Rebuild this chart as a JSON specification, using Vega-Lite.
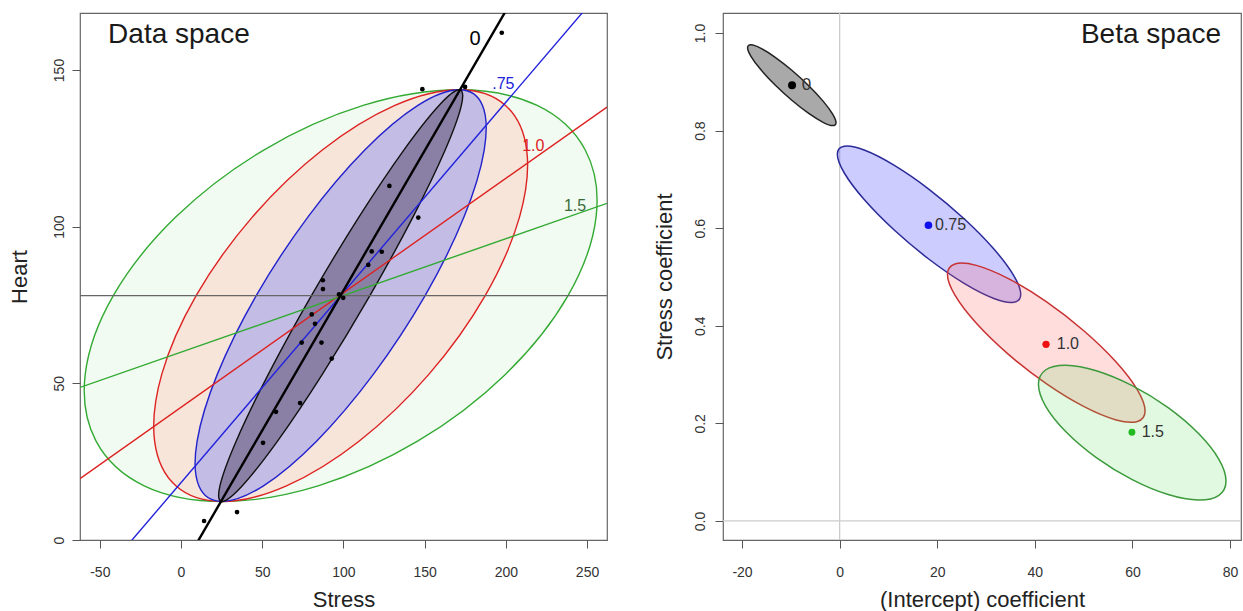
{
  "$schema": "https://vega.github.io/schema/vega-lite/v6.json",
  "padding": {"left": 8, "top": 12, "right": 2, "bottom": 0},
  "spacing": 45,
  "background": "white",
  "config": {
    "font": "Liberation Sans",
    "locale": {"number": {"decimal": ".", "thousands": ",", "grouping": [3], "currency": ["$", ""], "minus": "-"}},
    "view": {"stroke": "#666666", "strokeWidth": 1.2},
    "axis": {"domain": false, "grid": false, "tickColor": "#555555", "tickSize": 8, "tickWidth": 1, "labelFontSize": 14, "labelColor": "#333333", "labelFont": "Liberation Sans", "labelFlush": false, "labelOverlap": false, "labelBound": false, "titleFont": "Liberation Sans", "titleFontSize": 22, "titleFontWeight": "normal", "titleColor": "#222222"}
  },
  "datasets": {
    "ellL": [
      {"e":"g","k":0,"x":238.3,"y":78.0},{"e":"g","k":1,"x":255.59,"y":103.14},{"e":"g","k":2,"x":248.91,"y":124.46},{"e":"g","k":3,"x":219.32,"y":138.7},
      {"e":"g","k":4,"x":171.3,"y":143.7},{"e":"g","k":5,"x":112.16,"y":138.7},{"e":"g","k":6,"x":50.93,"y":124.46},{"e":"g","k":7,"x":-3.11,"y":103.14},
      {"e":"g","k":8,"x":-41.7,"y":78.0},{"e":"g","k":9,"x":-58.99,"y":52.86},{"e":"g","k":10,"x":-52.31,"y":31.54},{"e":"g","k":11,"x":-22.72,"y":17.3},
      {"e":"g","k":12,"x":25.3,"y":12.3},{"e":"g","k":13,"x":84.44,"y":17.3},{"e":"g","k":14,"x":145.67,"y":31.54},{"e":"g","k":15,"x":199.71,"y":52.86},
      {"e":"r","k":0,"x":187.3,"y":78.0},{"e":"r","k":1,"x":208.47,"y":103.14},{"e":"r","k":2,"x":212.85,"y":124.46},{"e":"r","k":3,"x":199.8,"y":138.7},
      {"e":"r","k":4,"x":171.3,"y":143.7},{"e":"r","k":5,"x":131.68,"y":138.7},{"e":"r","k":6,"x":86.99,"y":124.46},{"e":"r","k":7,"x":44.01,"y":103.14},
      {"e":"r","k":8,"x":9.3,"y":78.0},{"e":"r","k":9,"x":-11.87,"y":52.86},{"e":"r","k":10,"x":-16.25,"y":31.54},{"e":"r","k":11,"x":-3.2,"y":17.3},
      {"e":"r","k":12,"x":25.3,"y":12.3},{"e":"r","k":13,"x":64.92,"y":17.3},{"e":"r","k":14,"x":109.61,"y":31.54},{"e":"r","k":15,"x":152.59,"y":52.86},
      {"e":"b","k":0,"x":150.3,"y":78.0},{"e":"b","k":1,"x":174.28,"y":103.14},{"e":"b","k":2,"x":186.69,"y":124.46},{"e":"b","k":3,"x":185.64,"y":138.7},
      {"e":"b","k":4,"x":171.3,"y":143.7},{"e":"b","k":5,"x":145.84,"y":138.7},{"e":"b","k":6,"x":113.15,"y":124.46},{"e":"b","k":7,"x":78.2,"y":103.14},
      {"e":"b","k":8,"x":46.3,"y":78.0},{"e":"b","k":9,"x":22.32,"y":52.86},{"e":"b","k":10,"x":9.91,"y":31.54},{"e":"b","k":11,"x":10.96,"y":17.3},
      {"e":"b","k":12,"x":25.3,"y":12.3},{"e":"b","k":13,"x":50.76,"y":17.3},{"e":"b","k":14,"x":83.45,"y":31.54},{"e":"b","k":15,"x":118.4,"y":52.86},
      {"e":"k","k":0,"x":116.3,"y":78.0},{"e":"k","k":1,"x":142.87,"y":103.14},{"e":"k","k":2,"x":162.65,"y":124.46},{"e":"k","k":3,"x":172.63,"y":138.7},
      {"e":"k","k":4,"x":171.3,"y":143.7},{"e":"k","k":5,"x":158.85,"y":138.7},{"e":"k","k":6,"x":137.19,"y":124.46},{"e":"k","k":7,"x":109.61,"y":103.14},
      {"e":"k","k":8,"x":80.3,"y":78.0},{"e":"k","k":9,"x":53.73,"y":52.86},{"e":"k","k":10,"x":33.95,"y":31.54},{"e":"k","k":11,"x":23.97,"y":17.3},
      {"e":"k","k":12,"x":25.3,"y":12.3},{"e":"k","k":13,"x":37.75,"y":17.3},{"e":"k","k":14,"x":59.41,"y":31.54},{"e":"k","k":15,"x":86.99,"y":52.86}
    ],
    "linesL": [
      {"l":"0","x":-62.2,"y":-65.2},{"l":"0","x":262.3,"y":224.5},
      {"l":"0.75","x":-62.2,"y":-19.44},{"l":"0.75","x":262.3,"y":177.5},
      {"l":"1.0","x":-62.2,"y":19.61},{"l":"1.0","x":262.3,"y":138.19},
      {"l":"1.5","x":-62.2,"y":48.7},{"l":"1.5","x":262.3,"y":107.44},
      {"l":"inf","x":-62.2,"y":78.0},{"l":"inf","x":262.3,"y":78.0}
    ],
    "ptsL": [
      {"x":14.2,"y":6.06},{"x":34.5,"y":8.9},{"x":50.5,"y":31.0},{"x":58.5,"y":40.9},{"x":73.3,"y":43.7},{"x":74.3,"y":63.0},
      {"x":80.5,"y":72.0},{"x":82.5,"y":69.0},{"x":86.5,"y":63.0},{"x":92.8,"y":57.9},{"x":87.3,"y":82.9},{"x":87.4,"y":80.1},
      {"x":97.3,"y":78.4},{"x":99.9,"y":77.3},{"x":115.3,"y":87.8},{"x":117.4,"y":92.1},{"x":123.6,"y":92.0},{"x":128.3,"y":113.0},
      {"x":146.1,"y":102.9},{"x":148.6,"y":143.9},{"x":174.9,"y":144.6},{"x":197.5,"y":161.9}
    ],
    "labL": [
      {"t":"0","x":181.0,"y":159.8},{"t":".75","x":198.5,"y":145.4},{"t":"1.0","x":216.9,"y":125.8},{"t":"1.5","x":242.6,"y":106.6}
    ],
    "titleL": [{"t":"Data space","x":-44.9,"y":158.6}],
    "refR": [
      {"r":"v","k":0,"x":0,"y":-0.039},{"r":"v","k":1,"x":0,"y":1.041},
      {"r":"h","k":0,"x":-23.9,"y":0},{"r":"h","k":1,"x":82.25,"y":0}
    ],
    "ellR": [
      {"e":"k","k":0,"x":-0.74,"y":0.8162},{"e":"k","k":1,"x":-1.43,"y":0.8338},{"e":"k","k":2,"x":-3.39,"y":0.8604},{"e":"k","k":3,"x":-6.33,"y":0.892},
      {"e":"k","k":4,"x":-9.8,"y":0.9237},{"e":"k","k":5,"x":-13.27,"y":0.9508},{"e":"k","k":6,"x":-16.21,"y":0.969},{"e":"k","k":7,"x":-18.17,"y":0.9758},
      {"e":"k","k":8,"x":-18.86,"y":0.9698},{"e":"k","k":9,"x":-18.17,"y":0.9523},{"e":"k","k":10,"x":-16.21,"y":0.9256},{"e":"k","k":11,"x":-13.27,"y":0.894},
      {"e":"k","k":12,"x":-9.8,"y":0.8623},{"e":"k","k":13,"x":-6.33,"y":0.8352},{"e":"k","k":14,"x":-3.39,"y":0.817},{"e":"k","k":15,"x":-1.43,"y":0.8102},
      {"e":"b","k":0,"x":37.11,"y":0.4646},{"e":"b","k":1,"x":35.68,"y":0.5029},{"e":"b","k":2,"x":31.61,"y":0.5573},{"e":"b","k":3,"x":25.51,"y":0.6193},
      {"e":"b","k":4,"x":18.32,"y":0.6797},{"e":"b","k":5,"x":11.13,"y":0.7291},{"e":"b","k":6,"x":5.03,"y":0.7601},{"e":"b","k":7,"x":0.96,"y":0.7679},
      {"e":"b","k":8,"x":-0.47,"y":0.7514},{"e":"b","k":9,"x":0.96,"y":0.7131},{"e":"b","k":10,"x":5.03,"y":0.6587},{"e":"b","k":11,"x":11.13,"y":0.5967},
      {"e":"b","k":12,"x":18.32,"y":0.5363},{"e":"b","k":13,"x":25.51,"y":0.4869},{"e":"b","k":14,"x":31.61,"y":0.4559},{"e":"b","k":15,"x":35.68,"y":0.4481},
      {"e":"r","k":0,"x":62.59,"y":0.2254},{"e":"r","k":1,"x":61.05,"y":0.2682},{"e":"r","k":2,"x":56.66,"y":0.3258},{"e":"r","k":3,"x":50.09,"y":0.3894},
      {"e":"r","k":4,"x":42.34,"y":0.4494},{"e":"r","k":5,"x":34.59,"y":0.4966},{"e":"r","k":6,"x":28.02,"y":0.5238},{"e":"r","k":7,"x":23.63,"y":0.5268},
      {"e":"r","k":8,"x":22.09,"y":0.5054},{"e":"r","k":9,"x":23.63,"y":0.4626},{"e":"r","k":10,"x":28.02,"y":0.405},{"e":"r","k":11,"x":34.59,"y":0.3414},
      {"e":"r","k":12,"x":42.34,"y":0.2814},{"e":"r","k":13,"x":50.09,"y":0.2342},{"e":"r","k":14,"x":56.66,"y":0.207},{"e":"r","k":15,"x":61.05,"y":0.204},
      {"e":"g","k":0,"x":79.18,"y":0.082},{"e":"g","k":1,"x":77.72,"y":0.1264},{"e":"g","k":2,"x":73.55,"y":0.1791},{"e":"g","k":3,"x":67.32,"y":0.2321},
      {"e":"g","k":4,"x":59.96,"y":0.2773},{"e":"g","k":5,"x":52.6,"y":0.3079},{"e":"g","k":6,"x":46.37,"y":0.3191},{"e":"g","k":7,"x":42.2,"y":0.3094},
      {"e":"g","k":8,"x":40.74,"y":0.28},{"e":"g","k":9,"x":42.2,"y":0.2356},{"e":"g","k":10,"x":46.37,"y":0.1829},{"e":"g","k":11,"x":52.6,"y":0.1299},
      {"e":"g","k":12,"x":59.96,"y":0.0847},{"e":"g","k":13,"x":67.32,"y":0.0541},{"e":"g","k":14,"x":73.55,"y":0.0429},{"e":"g","k":15,"x":77.72,"y":0.0526}
    ],
    "betaR": [
      {"lam":"0","x":-9.75,"y":0.893},{"lam":"0.75","x":18.2,"y":0.606},{"lam":"1.0","x":42.3,"y":0.362},{"lam":"1.5","x":59.9,"y":0.182}
    ],
    "labR": [
      {"t":"0","x":-7.77,"y":0.893},{"t":"0.75","x":19.55,"y":0.606},{"t":"1.0","x":44.49,"y":0.362},{"t":"1.5","x":61.9,"y":0.1824}
    ],
    "titleR": [{"t":"Beta space","x":78.16,"y":0.9795}]
  },
  "resolve": {"scale": {"x": "independent", "y": "independent", "color": "independent", "size": "independent"}},
  "hconcat": [
    {
      "width": 527,
      "height": 527,
      "encoding": {
        "x": {"field": "x", "type": "quantitative", "scale": {"domain": [-62.2, 262.3], "nice": false, "zero": false},
              "axis": {"title": "Stress", "values": [-50, 0, 50, 100, 150, 200, 250], "format": "d", "labelPadding": 17, "labelBaseline": "top", "titleY": 66, "titleBaseline": "alphabetic"}},
        "y": {"field": "y", "type": "quantitative", "scale": {"domain": [0, 168.2], "nice": false, "zero": false},
              "axis": {"title": "Heart", "values": [0, 50, 100, 150], "format": "d", "labelAngle": 270, "labelAlign": "center", "labelBaseline": "bottom", "labelPadding": 6, "titleX": -48.4, "titleAngle": 270, "titleAlign": "center", "titleBaseline": "bottom"}}
      },
      "layer": [
        {"data": {"name": "ellL"}, "transform": [{"filter": "datum.e === 'g'"}],
         "mark": {"type": "line", "interpolate": "cardinal-closed", "fill": "#f2fbf2", "stroke": "#33aa33", "strokeWidth": 1.4, "clip": true},
         "encoding": {"order": {"field": "k", "type": "quantitative"}}},
        {"data": {"name": "ellL"}, "transform": [{"filter": "datum.e === 'r'"}],
         "mark": {"type": "line", "interpolate": "cardinal-closed", "fill": "#f7e5d9", "stroke": "#dd2222", "strokeWidth": 1.4, "clip": true},
         "encoding": {"order": {"field": "k", "type": "quantitative"}}},
        {"data": {"name": "ellL"}, "transform": [{"filter": "datum.e === 'b'"}],
         "mark": {"type": "line", "interpolate": "cardinal-closed", "fill": "#c3bde5", "stroke": "#2222cc", "strokeWidth": 1.4, "clip": true},
         "encoding": {"order": {"field": "k", "type": "quantitative"}}},
        {"data": {"name": "ellL"}, "transform": [{"filter": "datum.e === 'k'"}],
         "mark": {"type": "line", "interpolate": "cardinal-closed", "fill": "#8a80a6", "stroke": "#111111", "strokeWidth": 1.4, "clip": true},
         "encoding": {"order": {"field": "k", "type": "quantitative"}}},
        {"data": {"name": "linesL"}, "transform": [{"filter": "datum.l !== '0'"}],
         "mark": {"type": "line", "strokeWidth": 1.4, "clip": true},
         "encoding": {"color": {"field": "l", "type": "nominal", "scale": {"domain": ["0.75", "1.0", "1.5", "inf"], "range": ["#2222dd", "#dd2222", "#33aa33", "#666666"]}, "legend": null}}},
        {"data": {"name": "linesL"}, "transform": [{"filter": "datum.l === '0'"}],
         "mark": {"type": "line", "strokeWidth": 2.4, "color": "#000000", "clip": true},
         "encoding": {}},
        {"data": {"name": "ptsL"},
         "mark": {"type": "circle", "size": 22, "color": "#000000", "opacity": 1},
         "encoding": {}},
        {"data": {"name": "labL"}, "transform": [{"filter": "datum.t === '0'"}],
         "mark": {"type": "text", "fontSize": 20, "align": "center", "baseline": "middle", "color": "#000000"},
         "encoding": {"text": {"field": "t"}}},
        {"data": {"name": "labL"}, "transform": [{"filter": "datum.t === '.75'"}],
         "mark": {"type": "text", "fontSize": 16, "align": "center", "baseline": "middle", "color": "#2222dd"},
         "encoding": {"text": {"field": "t"}}},
        {"data": {"name": "labL"}, "transform": [{"filter": "datum.t === '1.0'"}],
         "mark": {"type": "text", "fontSize": 16, "align": "center", "baseline": "middle", "color": "#dd2222"},
         "encoding": {"text": {"field": "t"}}},
        {"data": {"name": "labL"}, "transform": [{"filter": "datum.t === '1.5'"}],
         "mark": {"type": "text", "fontSize": 16, "align": "center", "baseline": "middle", "color": "#3a6a3a"},
         "encoding": {"text": {"field": "t"}}},
        {"data": {"name": "titleL"},
         "mark": {"type": "text", "fontSize": 28, "align": "left", "baseline": "alphabetic", "color": "#1a1a1a"},
         "encoding": {"text": {"field": "t"}}}
      ]
    },
    {
      "width": 518,
      "height": 527,
      "encoding": {
        "x": {"field": "x", "type": "quantitative", "scale": {"domain": [-23.9, 82.25], "nice": false, "zero": false},
              "axis": {"title": "(Intercept) coefficient", "values": [-20, 0, 20, 40, 60, 80], "format": "d", "labelPadding": 17, "labelBaseline": "top", "titleY": 66, "titleBaseline": "alphabetic"}},
        "y": {"field": "y", "type": "quantitative", "scale": {"domain": [-0.039, 1.041], "nice": false, "zero": false},
              "axis": {"title": "Stress coefficient", "values": [0, 0.2, 0.4, 0.6, 0.8, 1.0], "format": ".1f", "labelAngle": 270, "labelAlign": "center", "labelBaseline": "bottom", "labelPadding": 8, "titleX": -46.4, "titleAngle": 270, "titleAlign": "center", "titleBaseline": "bottom"}}
      },
      "layer": [
        {"data": {"name": "refR"},
         "mark": {"type": "line", "stroke": "#cccccc", "strokeWidth": 1.3, "clip": true},
         "encoding": {"detail": {"field": "r"}, "order": {"field": "k", "type": "quantitative"}}},
        {"data": {"name": "ellR"}, "transform": [{"filter": "datum.e === 'k'"}],
         "mark": {"type": "line", "interpolate": "cardinal-closed", "fill": "#a9a9a9", "stroke": "#222222", "strokeWidth": 1.5, "clip": true},
         "encoding": {"order": {"field": "k", "type": "quantitative"}}},
        {"data": {"name": "ellR"}, "transform": [{"filter": "datum.e === 'b'"}],
         "mark": {"type": "line", "interpolate": "cardinal-closed", "fill": "#3333ff", "fillOpacity": 0.25, "stroke": "#2a2a99", "strokeWidth": 1.5, "clip": true},
         "encoding": {"order": {"field": "k", "type": "quantitative"}}},
        {"data": {"name": "ellR"}, "transform": [{"filter": "datum.e === 'r'"}],
         "mark": {"type": "line", "interpolate": "cardinal-closed", "fill": "#ff5555", "fillOpacity": 0.2, "stroke": "#c83232", "strokeWidth": 1.5, "clip": true},
         "encoding": {"order": {"field": "k", "type": "quantitative"}}},
        {"data": {"name": "ellR"}, "transform": [{"filter": "datum.e === 'g'"}],
         "mark": {"type": "line", "interpolate": "cardinal-closed", "fill": "#55dd55", "fillOpacity": 0.18, "stroke": "#3c9a3c", "strokeWidth": 1.5, "clip": true},
         "encoding": {"order": {"field": "k", "type": "quantitative"}}},
        {"data": {"name": "betaR"},
         "mark": {"type": "circle", "opacity": 1},
         "encoding": {
           "color": {"field": "lam", "type": "nominal", "scale": {"domain": ["0", "0.75", "1.0", "1.5"], "range": ["#000000", "#1010ee", "#ee1111", "#22bb22"]}, "legend": null},
           "size": {"field": "lam", "type": "nominal", "scale": {"domain": ["0", "0.75", "1.0", "1.5"], "range": [64, 48, 48, 48]}, "legend": null}
         }},
        {"data": {"name": "labR"}, "transform": [{"filter": "datum.t === '0'"}],
         "mark": {"type": "text", "fontSize": 17, "align": "left", "baseline": "middle", "color": "#333333"},
         "encoding": {"text": {"field": "t"}}},
        {"data": {"name": "labR"}, "transform": [{"filter": "datum.t !== '0'"}],
         "mark": {"type": "text", "fontSize": 16, "align": "left", "baseline": "middle", "color": "#333333"},
         "encoding": {"text": {"field": "t"}}},
        {"data": {"name": "titleR"},
         "mark": {"type": "text", "fontSize": 28, "align": "right", "baseline": "alphabetic", "color": "#1a1a1a"},
         "encoding": {"text": {"field": "t"}}}
      ]
    }
  ]
}
